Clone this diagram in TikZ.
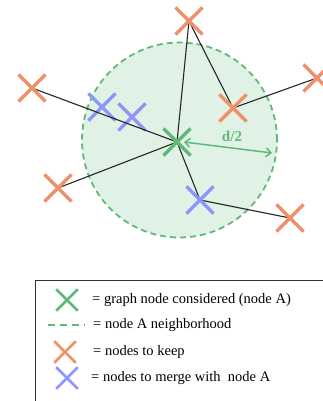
\documentclass[tikz,border=0pt]{standalone}
\usepackage{fontspec}
\setmainfont{Liberation Serif}
\usetikzlibrary{shapes.misc,arrows.meta}
\definecolor{gr}{RGB}{95,186,122}
\definecolor{grfill}{RGB}{224,241,229}
\definecolor{orn}{RGB}{240,144,106}
\definecolor{blu}{RGB}{143,150,250}
\tikzset{
  xmark/.style={cross out,draw,inner sep=0pt,minimum size=24pt,line width=3.2pt},
  lxmark/.style={cross out,draw,inner sep=0pt,minimum size=19pt,line width=2.6pt},
  edge/.style={draw=black!85,line width=1.1pt},
  legtext/.style={anchor=west,font=\fontsize{14.5}{14.5}\selectfont,inner sep=0pt}
}
\begin{document}
\begin{tikzpicture}[x=1pt,y=-1pt]
\useasboundingbox (0,0) rectangle (323,401);
\clip (0,0) rectangle (323,401);
% neighbourhood
\node[circle,draw=gr,fill=grfill,dashed,dash pattern=on 6pt off 4pt,line width=1.8pt,minimum size=195pt,inner sep=0pt] (circ) at (179.5,140) {};
% coordinates
\coordinate (A) at (177,142);
\coordinate (o1) at (189,21);
\coordinate (o2) at (233,108);
\coordinate (o3) at (317,78);
\coordinate (o4) at (32,88);
\coordinate (o5) at (58,188);
\coordinate (o6) at (290,218);
\coordinate (b1) at (102,107);
\coordinate (b2) at (132,117);
\coordinate (b3) at (200,200);
\coordinate (rim) at (272,153);
\coordinate (astart) at (184,142);
% merge nodes beneath the edges
\node[xmark,blu] (B1) at (b1) {};
\node[xmark,blu] (B2) at (b2) {};
% edges
\draw[edge] (o4) -- (A);
\draw[edge] (o1) -- (A);
\draw[edge] (o1) -- (o2);
\draw[edge] (o2) -- (o3);
\draw[edge] (o5) -- (A);
\draw[edge] (A) -- (b3);
\draw[edge] (b3) -- (o6);
% radius arrow
\draw[gr,line width=1.5pt,{Straight Barb[length=5pt,width=9pt]}-{Straight Barb[length=5pt,width=9pt]}] (astart) -- (rim);
\node[text=gr,font=\bfseries\fontsize{15}{15}\selectfont] (dlab) at (232,136) {d/2};
% crosses
\node[xmark,orn] (O1) at (o1) {};
\node[xmark,orn] (O2) at (o2) {};
\node[xmark,orn] (O3) at (o3) {};
\node[xmark,orn] (O4) at (o4) {};
\node[xmark,orn] (O5) at (o5) {};
\node[xmark,orn] (O6) at (o6) {};
\node[xmark,blu] (B3) at (b3) {};
\node[xmark,gr] (NA) at (A) {};
% legend
\draw[black!80,line width=0.8pt] (35,280) rectangle (340,420);
\node[lxmark,gr] (L1) at (67,300) {};
\node[legtext] (T1) at (92,300) {= graph node considered (node A)};
\coordinate (L2a) at (48,325);
\coordinate (L2b) at (85,325);
\draw[gr,line width=1.8pt,dash pattern=on 7pt off 5pt] (L2a) -- (L2b);
\node[legtext] (T2) at (93,325) {= node A neighborhood};
\node[lxmark,orn] (L3) at (65,352) {};
\node[legtext] (T3) at (93,352) {= nodes to keep};
\node[lxmark,blu] (L4) at (67,378) {};
\node[legtext] (T4) at (91,378) {= nodes to merge with\ \ node A};
\end{tikzpicture}
\end{document}
